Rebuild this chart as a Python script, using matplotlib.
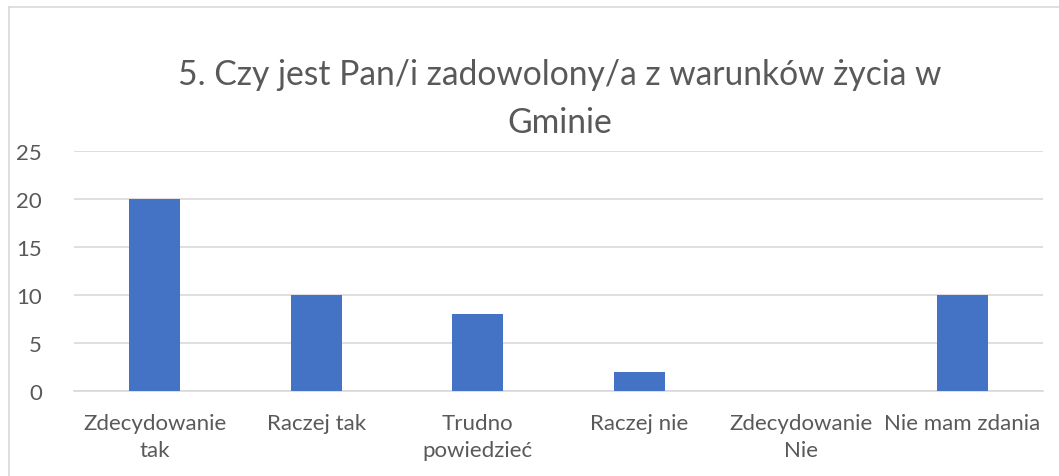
import matplotlib.pyplot as plt
from matplotlib.lines import Line2D

plt.rcParams['font.family'] = ['Lato', 'DejaVu Sans']

categories = ["Zdecydowanie\ntak", "Raczej tak", "Trudno\npowiedzieć",
              "Raczej nie", "Zdecydowanie\nNie", "Nie mam zdania"]
values = [20, 10, 8, 2, 0, 10]
yticks = [0, 5, 10, 15, 20, 25]
title = "5. Czy jest Pan/i zadowolony/a z warunków życia w\nGminie"

W, H = 1059, 477
fig = plt.figure(figsize=(W / 100, H / 100), dpi=100)
fig.patch.set_facecolor('white')

# ramka wykresu (lewa i górna krawędź)
fig.add_artist(Line2D([9 / W, 9 / W], [0, 1 - 8 / H], color='#d9d9d9', lw=1.2))
fig.add_artist(Line2D([9 / W, 1], [1 - 8 / H, 1 - 8 / H], color='#d9d9d9', lw=1.2))

ax = fig.add_axes([74 / W, (H - 392) / H, 969 / W, 240 / H])
x = range(len(categories))
ax.bar(x, values, width=0.316, color='#4472C4', zorder=3)

ax.set_xlim(-0.5, len(categories) - 0.5)
ax.set_ylim(0, 25)
ax.set_yticks(yticks)
ax.set_xticks(list(x))
ax.set_xticklabels(categories, fontsize=16, color='#595959', linespacing=1.45)
ax.tick_params(axis='y', labelsize=16, labelcolor='#595959', length=0, pad=23)
ax.tick_params(axis='x', length=0, pad=16)
ax.grid(axis='y', color='#d9d9d9', lw=1.2, zorder=0)
for s in ['top', 'right', 'left']:
    ax.spines[s].set_visible(False)
ax.spines['bottom'].set_color('#d9d9d9')
ax.spines['bottom'].set_linewidth(1.2)

fig.text(560 / W, 1 - 99 / H, title, ha='center', va='center', fontsize=24.2,
         color='#595959', linespacing=1.62)

fig.savefig('out.png', dpi=100)
